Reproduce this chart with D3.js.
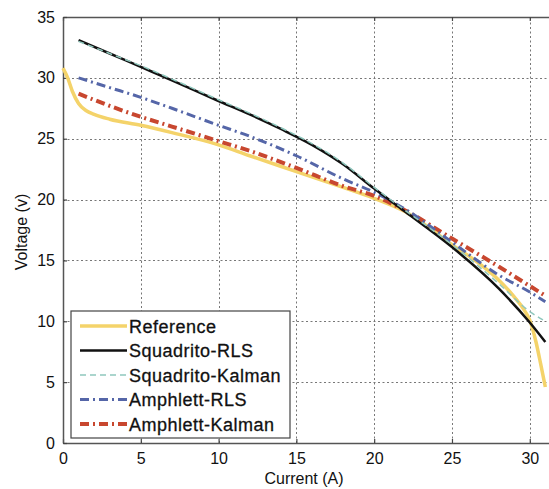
<!DOCTYPE html>
<html>
<head>
<meta charset="utf-8">
<script src="https://cdn.jsdelivr.net/npm/d3@7"></script>
<style>
  body { margin: 0; background: #fff; }
  svg { display: block; font-family: Arial, "Liberation Sans", sans-serif; }
</style>
</head>
<body>
<svg id="chart" width="549" height="489"></svg>
<script>
// data: [current (A), voltage (V)]
var reference = [[0,30.8],[0.3,30.0],[0.6,28.9],[1,27.9],[1.5,27.3],[2,27.0],[3,26.6],[5,26.1],[7,25.5],[10,24.5],[12,23.6],[15,22.3],[18,21.0],[20,20.1],[22,19.0],[25,16.3],[27,14.5],[28,13.4],[29,12.0],[29.6,11.0],[30,10.1],[30.4,8.3],[30.7,6.5],[31,4.6]];
var squadritoRLS = [[1,33.1],[3,32.0],[5,30.9],[7,29.8],[10,28.1],[12,27.0],[14,25.8],[16,24.5],[18,22.9],[20,20.9],[22,19.0],[25,16.1],[28,12.7],[30,9.9],[31,8.3]];
var squadritoKalman = [[1,33.0],[3,32.0],[5,31.0],[7,29.9],[10,28.2],[12,27.1],[14,25.9],[16,24.6],[18,23.0],[20,21.0],[22,19.1],[25,16.3],[28,13.1],[30,10.8],[31,10.0]];
var amphlettRLS = [[1,30.0],[3,29.2],[5,28.4],[7,27.5],[10,26.1],[12,25.2],[15,23.6],[18,21.7],[20,20.6],[22,19.2],[25,16.5],[28,13.8],[30,12.4],[31,11.6]];
var amphlettKalman = [[1,28.7],[3,27.7],[5,26.8],[7,26.0],[10,24.8],[12,24.0],[15,22.6],[18,21.1],[20,20.3],[22,19.1],[25,16.8],[28,14.5],[30,12.9],[31,12.1]];

var xTicks = [0, 5, 10, 15, 20, 25, 30];
var yTicks = [0, 5, 10, 15, 20, 25, 30, 35];
var legendNames = ["Reference", "Squadrito-RLS", "Squadrito-Kalman", "Amphlett-RLS", "Amphlett-Kalman"];

var svg = d3.select("#chart");
var x_scale = d3.scaleLinear().domain([0, 31.3]).range([63, 550]);
var y_scale = d3.scaleLinear().domain([0, 35]).range([443, 17]);

// dotted grid
var grid = svg.append("g").attr("stroke", "#777").attr("stroke-width", 1).attr("stroke-dasharray", "2,2.5");
xTicks.slice(1).forEach(function (t) {
  grid.append("line")
      .attr("x1", Math.round(x_scale(t)) + 0.5).attr("x2", Math.round(x_scale(t)) + 0.5)
      .attr("y1", y_scale(0)).attr("y2", y_scale(35));
});
yTicks.slice(1, -1).forEach(function (t) {
  grid.append("line")
      .attr("x1", x_scale(0)).attr("x2", 549)
      .attr("y1", Math.round(y_scale(t)) + 0.5).attr("y2", Math.round(y_scale(t)) + 0.5);
});

// axes
var xAxis = svg.append("g").attr("transform", "translate(0," + y_scale(0) + ")")
    .call(d3.axisBottom(x_scale).tickValues(xTicks).tickSizeInner(-4).tickSizeOuter(0).tickPadding(10));
var xTop = svg.append("g").attr("transform", "translate(0," + y_scale(35) + ")")
    .call(d3.axisTop(x_scale).tickValues(xTicks).tickSizeInner(-4).tickSizeOuter(0).tickFormat(""));
var yAxis = svg.append("g").attr("transform", "translate(" + x_scale(0) + ",0)")
    .call(d3.axisLeft(y_scale).tickValues(yTicks).tickSizeInner(-4).tickSizeOuter(0).tickPadding(8));
[xAxis, xTop, yAxis].forEach(function (a) {
  a.select(".domain").attr("stroke", "#555").attr("stroke-width", 1.5);
  a.selectAll(".tick line").attr("stroke", "#444").attr("stroke-width", 1.2);
  a.selectAll("text").attr("font-size", "16px").attr("fill", "#111")
    .attr("font-family", "Arial, 'Liberation Sans', sans-serif");
});

svg.append("text").attr("x", 304).attr("y", 484).attr("text-anchor", "middle")
   .attr("font-size", "16px").attr("fill", "#111").text("Current (A)");
svg.append("text").attr("transform", "translate(27,232) rotate(-90)").attr("text-anchor", "middle")
   .attr("font-size", "16px").attr("fill", "#111").text("Voltage (v)");

var line = d3.line().x(d => x_scale(d[0])).y(d => y_scale(d[1])).curve(d3.curveMonotoneX);

var styles = [
  {data: reference, color: "#f4d36a", width: 3.5, dash: null},
  {data: squadritoRLS, color: "#111", width: 2.5, dash: null},
  {data: squadritoKalman, color: "#8fc7bd", width: 1.5, dash: "6,4"},
  {data: amphlettRLS, color: "#5566a8", width: 3, dash: "9,4,2,4"},
  {data: amphlettKalman, color: "#c8472f", width: 4, dash: "9,4,2,4"}
];
// draw order: reference at the bottom, then the models
var order = [0, 4, 3, 1, 2];
order.forEach(function (i) {
  var s = styles[i];
  svg.append("path").datum(s.data)
     .attr("fill", "none").attr("stroke", s.color).attr("stroke-width", s.width)
     .attr("stroke-dasharray", s.dash).attr("d", line);
});

// legend
var lg = svg.append("g");
lg.append("rect").attr("x", 71).attr("y", 311).attr("width", 219).attr("height", 127)
  .attr("fill", "#fff").attr("stroke", "#444").attr("stroke-width", 1.2);
legendNames.forEach(function (name, i) {
  var y = 326 + i * 24.5;
  var s = styles[i];
  lg.append("line").attr("x1", 80).attr("x2", 127).attr("y1", y).attr("y2", y)
    .attr("stroke", s.color).attr("stroke-width", s.width).attr("stroke-dasharray", s.dash);
  lg.append("text").attr("x", 129).attr("y", y + 6.5).attr("font-size", "18px")
    .attr("letter-spacing", "0.5px").attr("fill", "#111")
    .attr("stroke", "#111").attr("stroke-width", 0.3).text(name);
});
</script>
</body>
</html>
